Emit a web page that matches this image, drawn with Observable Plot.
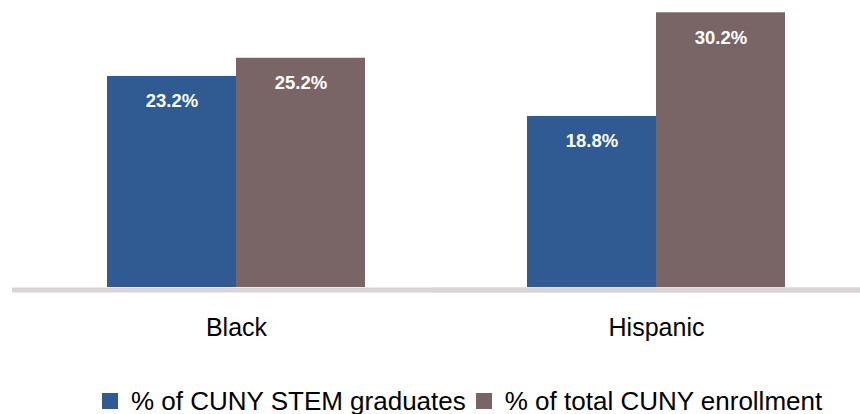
<!DOCTYPE html>
<html>
<head>
<meta charset="utf-8">
<script src="https://cdn.jsdelivr.net/npm/d3@7"></script>
<script src="https://cdn.jsdelivr.net/npm/@observablehq/plot@0.6"></script>
<style>
  html, body { margin: 0; padding: 0; background: #fff; }
  #chart { width: 860px; height: 414px; position: relative; font-family: "Liberation Sans", Arial, sans-serif; }
  #legend { display: flex; align-items: center; height: 62px; padding-left: 102px; font-size: 26px; color: #000; white-space: nowrap; }
  .sw { width: 16px; height: 16px; display: inline-block; margin-right: 13px; }
  .item { display: flex; align-items: center; margin-right: 10px; }
</style>
</head>
<body>
<div id="chart"></div>
<script>
const groups = ["Black", "Hispanic"];
const series = ["% of CUNY STEM graduates", "% of total CUNY enrollment"];
const stemGraduates = [23.2, 18.8];
const totalEnrollment = [25.2, 30.2];
const colors = ["#2f5b92", "#7a6566"];

const values = [stemGraduates, totalEnrollment];
const data = [];
groups.forEach((g, i) => {
  series.forEach((s, j) => data.push({group: g, series: s, value: values[j][i]}));
});

const plot = Plot.plot({
  width: 860,
  height: 370,
  marginLeft: 32,
  marginRight: 0,
  marginTop: 5,
  marginBottom: 83,
  style: {fontFamily: "'Liberation Sans', Arial, sans-serif", fontSize: "25px", color: "#000", background: "#fff"},
  fx: {domain: groups, paddingInner: 0.029, paddingOuter: 0, label: null, tickSize: 0, tickPadding: 31},
  x: {domain: series, paddingInner: 0, paddingOuter: 0.575, axis: null},
  y: {domain: [0, 31], axis: null},
  color: {domain: series, range: colors},
  marks: [
    Plot.ruleY([0], {stroke: "#d9d5d5", strokeWidth: 5, dy: 2.5, insetLeft: -20, insetRight: -430}),
    Plot.barY(data, {fx: "group", x: "series", y: "value", fill: "series"}),
    Plot.text(data, {fx: "group", x: "series", y: "value", text: d => d.value.toFixed(1) + "%",
      fill: "white", fontWeight: "bold", fontSize: 18.5, dy: 25, lineAnchor: "middle"})
  ]
});
document.getElementById("chart").appendChild(plot);

const legend = document.createElement("div");
legend.id = "legend";
series.forEach((s, j) => {
  const item = document.createElement("span");
  item.className = "item";
  const sw = document.createElement("span");
  sw.className = "sw";
  sw.style.background = colors[j];
  item.appendChild(sw);
  item.appendChild(document.createTextNode(s));
  legend.appendChild(item);
});
document.getElementById("chart").appendChild(legend);
</script>
</body>
</html>
